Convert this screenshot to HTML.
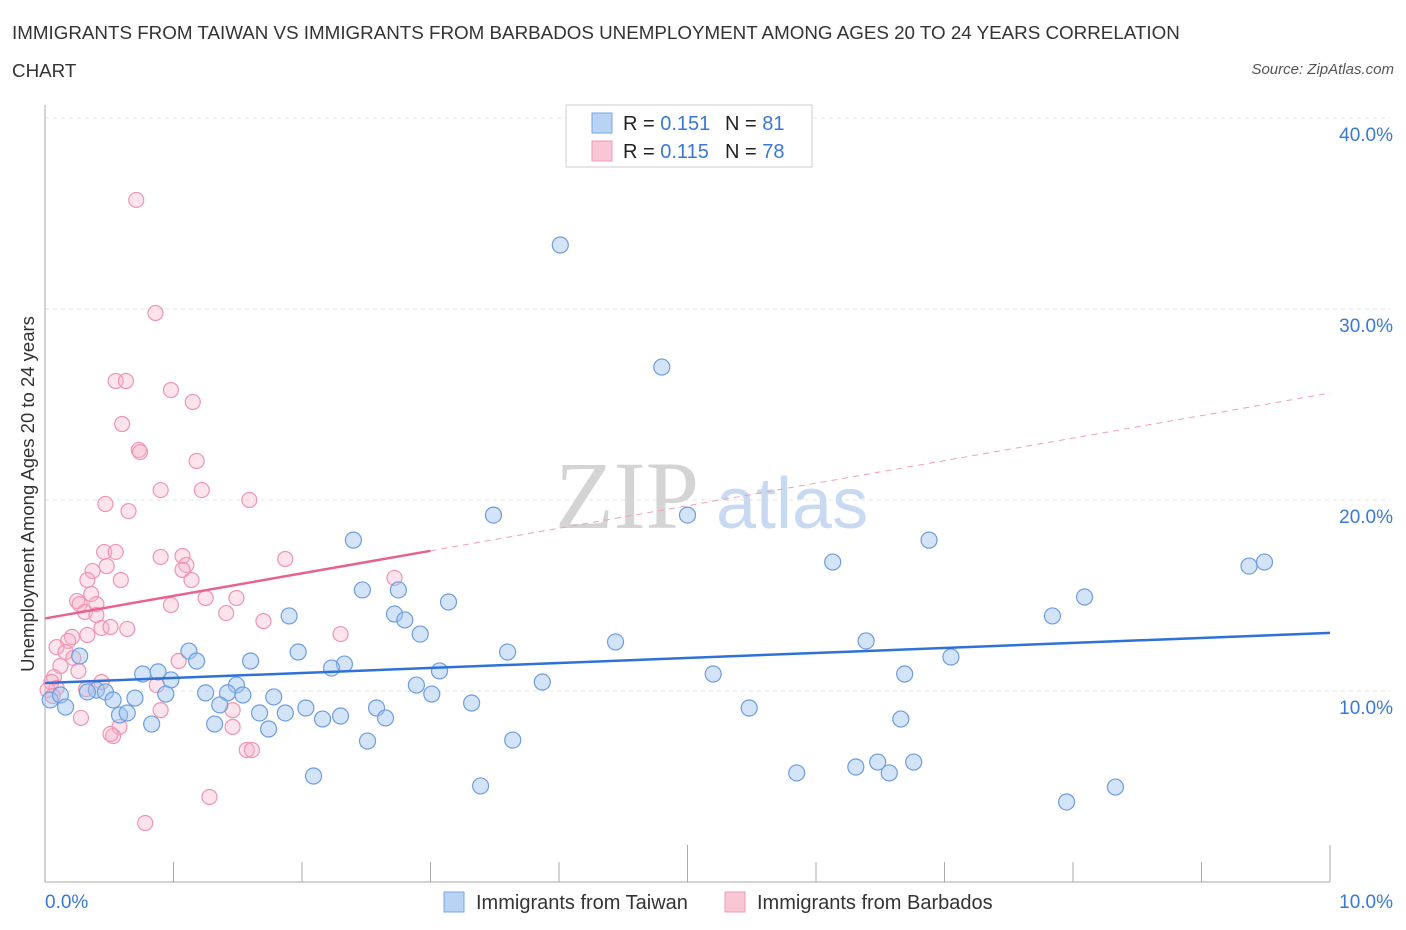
<!DOCTYPE html>
<html><head><meta charset="utf-8">
<style>
body{margin:0;background:#fff;font-family:"Liberation Sans",sans-serif;}
#wrap{position:relative;width:1406px;height:930px;overflow:hidden;}
.t{position:absolute;white-space:nowrap;}
</style></head>
<body>
<div id="wrap">
<div class="t" style="left:12px;top:22px;font-size:18.8px;color:#333;">IMMIGRANTS FROM TAIWAN VS IMMIGRANTS FROM BARBADOS UNEMPLOYMENT AMONG AGES 20 TO 24 YEARS CORRELATION</div>
<div class="t" style="left:12px;top:60px;font-size:18.8px;color:#333;">CHART</div>
<div class="t" style="right:12px;top:61px;font-size:15px;color:#555;font-style:italic;">Source: ZipAtlas.com</div>
<svg id="svg" width="1406" height="930" style="position:absolute;left:0;top:0;"></svg>
</div>
<script>
const yTicks=[10,20,30,40];
const xTickLabels=["0.0%","10.0%"];
const taiwanX=[4.01,4.80,3.49,5.0,2.40,6.88,6.13,9.37,9.49,2.47,2.75,3.14,8.09,7.84,1.90,2.72,2.80,2.92,4.44,6.39,1.12,1.97,3.60,7.05,0.27,1.18,1.60,2.33,2.23,3.07,0.76,0.88,5.20,6.69,0.98,1.49,3.87,2.89,0.40,0.47,0.33,0.94,1.25,1.42,1.54,1.78,3.01,0.70,0.53,0.04,0.12,0.16,1.36,2.03,3.32,2.58,5.48,1.67,1.87,0.58,0.64,2.16,2.30,2.65,6.66,0.83,1.32,1.74,2.51,3.64,6.31,6.48,6.57,6.76,5.85,2.09,3.39,7.95,8.33];
const taiwanY=[33.35,26.96,19.21,19.21,17.9,17.9,16.75,16.54,16.75,15.29,15.29,14.66,14.92,13.93,13.93,14.03,13.72,12.98,12.57,12.62,12.09,12.04,12.04,11.78,11.83,11.57,11.57,11.41,11.2,11.05,10.89,11.0,10.89,10.89,10.58,10.31,10.47,10.31,10.05,9.95,9.95,9.84,9.9,9.9,9.79,9.69,9.84,9.63,9.53,9.53,9.79,9.16,9.27,9.11,9.37,9.11,9.11,8.85,8.85,8.74,8.85,8.53,8.69,8.59,8.53,8.27,8.27,8.01,7.38,7.43,6.02,6.28,5.71,6.28,5.71,5.55,5.03,4.19,4.97];
const barbX=[0.71,0.86,0.55,0.63,0.98,1.15,0.60,0.73,0.74,1.18,0.90,1.22,1.59,0.47,0.65,0.46,0.55,0.90,1.07,1.87,0.48,1.10,0.37,1.07,2.72,0.33,0.59,1.14,0.36,0.25,0.27,0.40,1.49,1.25,0.98,1.41,0.31,0.40,1.70,0.44,0.51,0.64,0.33,2.30,0.21,0.18,0.09,0.16,0.22,1.04,0.12,0.26,0.07,0.05,0.44,0.87,0.09,0.02,0.32,0.06,0.90,1.46,0.28,0.58,0.53,0.51,1.46,1.57,1.61,1.28,0.78];
const barbY=[35.71,29.79,26.23,26.23,25.76,25.13,23.98,22.62,22.51,22.04,20.52,20.52,20.0,19.79,19.42,17.28,17.28,17.02,17.07,16.91,16.54,16.6,16.28,16.34,15.92,15.81,15.81,15.81,15.08,14.71,14.55,14.55,14.87,14.87,14.5,14.08,14.14,13.98,13.66,13.3,13.35,13.25,12.93,12.98,12.83,12.62,12.3,12.04,11.73,11.57,11.31,11.05,10.73,10.47,10.47,10.31,10.16,10.05,10.1,9.74,9.0,9.0,8.59,8.12,7.64,7.75,8.12,6.91,6.91,4.45,3.09];
const taiwanTrend=[10.42,13.04];
const barbTrend=[13.8,25.6];

const X0=45,X1=1330,Y0=882,YS=19.1;
const sx=v=>X0+(v/10)*(X1-X0);
const sy=v=>Y0-v*YS;
const svg=document.getElementById('svg');
const NS='http://www.w3.org/2000/svg';
function mk(tag,a){const e=document.createElementNS(NS,tag);for(const k in a)e.setAttribute(k,a[k]);svg.appendChild(e);return e;}
yTicks.forEach(v=>{
 const g=mk('line',{x1:X0,x2:X1+60,y1:sy(v),y2:sy(v),stroke:'#e3e3e3','stroke-dasharray':'4,4'});
 
 
 const t=mk('text',{x:1393,y:sy(v)+23,'text-anchor':'end','font-size':19,fill:'#3a78d8','font-family':'Liberation Sans, sans-serif'});
 t.textContent=v.toFixed(1)+'%';
 
 
});
const topGrid=mk('line',{x1:X0,x2:X1+60,y1:118,y2:118,stroke:'#e3e3e3','stroke-dasharray':'4,4'});


const ax=mk('line',{x1:X0,x2:X1,y1:Y0,y2:Y0,stroke:'#aaa'});


const ay=mk('line',{x1:X0,x2:X0,y1:105,y2:Y0,stroke:'#aaa'});


for(let i=0;i<=10;i++){
 const tk=mk('line',{x1:sx(i),x2:sx(i),y1:(i%5==0&&i>0)?845:862,y2:Y0,stroke:'#aaa'});
 
 
}
const xl0=mk('text',{x:45,y:908,'font-size':19,fill:'#3a78d8','font-family':'Liberation Sans, sans-serif'});xl0.textContent=xTickLabels[0];


const xl1=mk('text',{x:1393,y:908,'text-anchor':'end','font-size':19,fill:'#3a78d8','font-family':'Liberation Sans, sans-serif'});xl1.textContent=xTickLabels[1];


const yt=mk('text',{x:0,y:0,transform:'translate(34,494) rotate(-90)','text-anchor':'middle','font-size':18.5,fill:'#333','font-family':'Liberation Sans, sans-serif'});
yt.textContent='Unemployment Among Ages 20 to 24 years';


const w1=mk('text',{x:555,y:528,'font-size':96,fill:'#d4d4d4','font-family':'Liberation Serif, serif'});w1.textContent='ZIP';


const w2=mk('text',{x:716,y:528,'font-size':72,fill:'#c8daf2','font-family':'Liberation Sans, sans-serif'});w2.textContent='atlas';


barbX.forEach((x,i)=>{
 const c=mk('circle',{cx:sx(x),cy:sy(barbY[i]),r:7.5,fill:'rgba(246,175,200,0.35)',stroke:'#ef94b4','stroke-width':1.2});
 
 
});
taiwanX.forEach((x,i)=>{
 const c=mk('circle',{cx:sx(x),cy:sy(taiwanY[i]),r:8,fill:'rgba(160,195,240,0.45)',stroke:'#6c9de0','stroke-width':1.2});
 
 
});
const bm=(barbTrend[1]-barbTrend[0])/10;
const p1=mk('line',{x1:sx(0),y1:sy(barbTrend[0]),x2:sx(3),y2:sy(barbTrend[0]+bm*3),stroke:'#e8628f','stroke-width':2.5});


const p2=mk('line',{x1:sx(3),y1:sy(barbTrend[0]+bm*3),x2:sx(10),y2:sy(barbTrend[1]),stroke:'#eda0bb','stroke-width':1,'stroke-dasharray':'6,5'});


const b1=mk('line',{x1:sx(0),y1:sy(taiwanTrend[0]),x2:sx(10),y2:sy(taiwanTrend[1]),stroke:'#2e72d8','stroke-width':2.5});


const lb=mk('rect',{x:566,y:105,width:246,height:62,fill:'#fff',stroke:'#ccc'});


function legRow(y,fill,stroke,r,n,name){
 const s=mk('rect',{x:592,y:y-10,width:20,height:20,fill:fill,stroke:stroke});
 
 
 const t=mk('text',{x:623,y:y+7,'font-size':20,fill:'#222','font-family':'Liberation Sans, sans-serif'});
 t.innerHTML='R = <tspan fill="#3a78d8">'+r+'</tspan><tspan x="725">N = </tspan><tspan fill="#3a78d8">'+n+'</tspan>';
 
 
}
legRow(123,'#b9d3f5','#7aa6e4','0.151',' 81','taiwan');
legRow(151,'#f9c6d6','#ef9ab8','0.115','78','barbados');
function bl(x,fill,stroke,label,name){
 const s=mk('rect',{x:x,y:892,width:20,height:20,fill:fill,stroke:stroke});
 
 
 const t=mk('text',{x:x+32,y:909,'font-size':20,fill:'#333','font-family':'Liberation Sans, sans-serif'});
 t.textContent=label;
 
 
}
bl(444,'#b9d3f5','#7aa6e4','Immigrants from Taiwan','taiwan');
bl(725,'#f9c6d6','#ef9ab8','Immigrants from Barbados','barbados');
</script>
</body></html>
